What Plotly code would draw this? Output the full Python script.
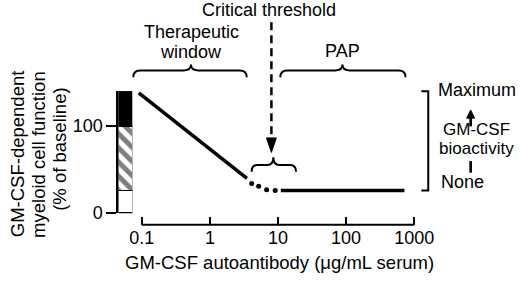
import math
import plotly.graph_objects as go

# ---------------- data ----------------
slope_x = [0.09, 3.5]            # GM-CSF autoantibody (ug/mL)
slope_y = [138, 40]              # % of baseline
dots_x = [4.1, 5.2, 6.8, 9.1]
dots_y = [34, 31, 27, 26]
plateau_x = [11, 720]
plateau_y = [26, 26]
bar_levels = [26, 100, 140]      # tops of white, hatched and black bar segments
critical_threshold = 8
x_tickvals = [0.1, 1, 10, 100, 1000]
x_ticktext = ["0.1", "1", "10", "100", "1000"]
y_tickvals = [0, 100]
y_ticktext = ["0", "100"]

# ---------------- geometry (pixels) ----------------
W, H = 520, 282
FONT = "Liberation Sans, Arial, Helvetica, sans-serif"
X_LEFT_PX = 136.7     # pixel of x = 0.1
DEC_PX = 69.0         # pixels per decade
Y0_PX = 221.0         # pixel of y = 0
UNIT_PX = 0.903       # pixels per % unit
XAXIS_PX = 233.0      # pixel row of the x axis line
YTOP_PX = 20.0


def X(px):
    return px / W


def Y(py):
    return 1 - py / H


def xpx(v):
    return X_LEFT_PX + DEC_PX * (math.log10(v) + 1)


def ypx(v):
    return Y0_PX - UNIT_PX * v


xrange_log = [-1.08, 3.3]
xdom = [X(X_LEFT_PX + DEC_PX * (xrange_log[0] + 1)), X(X_LEFT_PX + DEC_PX * (xrange_log[1] + 1))]
yrange = [(Y0_PX - XAXIS_PX) / UNIT_PX, (Y0_PX - YTOP_PX) / UNIT_PX]
ydom = [Y(XAXIS_PX), Y(YTOP_PX)]

fig = go.Figure()

# curve
fig.add_trace(go.Scatter(x=slope_x, y=slope_y, mode="lines",
                         line=dict(color="black", width=3.5), xaxis="x", yaxis="y",
                         hoverinfo="skip"))
fig.add_trace(go.Scatter(x=dots_x, y=dots_y, mode="markers",
                         marker=dict(color="black", size=5), xaxis="x", yaxis="y",
                         hoverinfo="skip"))
fig.add_trace(go.Scatter(x=plateau_x, y=plateau_y, mode="lines",
                         line=dict(color="black", width=3.5), xaxis="x", yaxis="y",
                         hoverinfo="skip"))

# stacked bar
heights = [bar_levels[0]] + [bar_levels[i] - bar_levels[i - 1] for i in range(1, len(bar_levels))]
bar_markers = [
    dict(color="white", line=dict(color="black", width=1.5)),
    dict(color="white", line=dict(color="black", width=1.5),
         pattern=dict(shape="\\", fgcolor="black", bgcolor="white", size=10, solidity=0.5)),
    dict(color="black", line=dict(color="black", width=1.5)),
]
for h, m in zip(heights, bar_markers):
    fig.add_trace(go.Bar(x=[0], y=[h], width=1, marker=m, xaxis="x2", yaxis="y2",
                         hoverinfo="skip"))

shapes = []
# x axis line from 0.1 to 1000
shapes.append(dict(type="line", xref="paper", yref="paper",
                   x0=X(xpx(x_tickvals[0])), x1=X(xpx(x_tickvals[-1])),
                   y0=Y(XAXIS_PX), y1=Y(XAXIS_PX), line=dict(color="black", width=2)))

# critical threshold dashed arrow
tx = xpx(critical_threshold)
shapes.append(dict(type="line", xref="paper", yref="paper", x0=X(tx), x1=X(tx),
                   y0=Y(23), y1=Y(145), line=dict(color="black", width=2.5, dash="8px,5px")))
shapes.append(dict(type="path", xref="paper", yref="paper",
                   path=f"M {X(tx-5)},{Y(143)} L {X(tx+5)},{Y(143)} L {X(tx)},{Y(158)} Z",
                   fillcolor="black", line=dict(color="black", width=1)))


def brace(x0, x1, xm, y_end, y_mid, y_tip, r=7):
    p = (f"M {X(x0)},{Y(y_end)} Q {X(x0)},{Y(y_mid)} {X(x0 + r)},{Y(y_mid)} "
         f"L {X(xm - r)},{Y(y_mid)} Q {X(xm)},{Y(y_mid)} {X(xm)},{Y(y_tip)} "
         f"Q {X(xm)},{Y(y_mid)} {X(xm + r)},{Y(y_mid)} "
         f"L {X(x1 - r)},{Y(y_mid)} Q {X(x1)},{Y(y_mid)} {X(x1)},{Y(y_end)}")
    return dict(type="path", xref="paper", yref="paper", path=p,
                line=dict(color="black", width=2))


shapes.append(brace(128, 243, 186.5, 80, 73, 67))
shapes.append(brace(277, 404, 340, 80, 73, 67))
shapes.append(brace(248, 293, 270, 178, 171, 163, r=6))

# right bracket (Maximum .. None)
yt, yb = ypx(bar_levels[-1]), ypx(plateau_y[0])
shapes.append(dict(type="path", xref="paper", yref="paper",
                   path=f"M {X(420)},{Y(yt)} L {X(427)},{Y(yt)} L {X(427)},{Y(yb)} L {X(420)},{Y(yb)}",
                   line=dict(color="black", width=2)))
# bioactivity arrow
shapes.append(dict(type="line", xref="paper", yref="paper", x0=X(470), x1=X(470),
                   y0=Y(131), y1=Y(121), line=dict(color="black", width=2.7)))
shapes.append(dict(type="path", xref="paper", yref="paper",
                   path=f"M {X(466)},{Y(122.5)} L {X(474)},{Y(122.5)} L {X(470)},{Y(114)} Z",
                   fillcolor="black", line=dict(color="black", width=1)))
shapes.append(dict(type="line", xref="paper", yref="paper", x0=X(470), x1=X(470),
                   y0=Y(167), y1=Y(179), line=dict(color="black", width=2.7)))


def ann(text, x, y, xanchor="center", size=18, angle=0):
    return dict(text=text, x=X(x), y=Y(y), xref="paper", yref="paper", showarrow=False,
                xanchor=xanchor, yanchor="middle", textangle=angle, borderpad=0,
                font=dict(family=FONT, size=size, color="black"))


annotations = [
    ann("Critical threshold", 266, 10),
    ann("Therapeutic", 186.7, 33.5),
    ann("window", 186.7, 54),
    ann("PAP", 340, 53),
    ann("Maximum", 436, 93.5, xanchor="left"),
    ann("GM-CSF", 476, 134, size=17),
    ann("bioactivity", 476, 154, size=17),
    ann("None", 439, 189, xanchor="left"),
    ann("GM-CSF autoantibody (μg/mL serum)", 276, 272, size=18.5),
    ann("GM-CSF-dependent", 10, 159, size=18.5, angle=-90),
    ann("myeloid cell function", 32, 160, size=18.5, angle=-90),
    ann("(% of baseline)", 53, 155, size=18.5, angle=-90),
]

fig.update_layout(
    width=W, height=H,
    margin=dict(l=0, r=0, t=0, b=0),
    paper_bgcolor="white", plot_bgcolor="rgba(0,0,0,0)",
    showlegend=False, barmode="stack",
    font=dict(family=FONT, size=18, color="black"),
    xaxis=dict(type="log", range=xrange_log, domain=xdom, anchor="y",
               tickvals=x_tickvals, ticktext=x_ticktext, ticks="inside", ticklen=8,
               tickwidth=2, tickcolor="black", showline=False, showgrid=False,
               zeroline=False, tickfont=dict(family=FONT, size=18, color="black")),
    yaxis=dict(range=yrange, domain=ydom, anchor="x", visible=False),
    xaxis2=dict(domain=[X(113), X(127)], range=[-0.5, 0.5], anchor="y2", visible=False),
    yaxis2=dict(domain=[Y(Y0_PX), Y(ypx(bar_levels[-1]))], range=[0, bar_levels[-1]],
                anchor="x2", showline=True, linewidth=2, linecolor="black",
                ticks="outside", ticklen=10, tickwidth=2, tickcolor="black",
                tickvals=y_tickvals, ticktext=y_ticktext, showgrid=False, zeroline=False,
                tickfont=dict(family=FONT, size=18, color="black")),
    shapes=shapes,
    annotations=annotations,
)

fig.write_html(
    "out.html",
    config={"displayModeBar": False},
    post_script=("document.documentElement.style.margin='0px';"
                 "document.body.style.margin='0px';"),
)
